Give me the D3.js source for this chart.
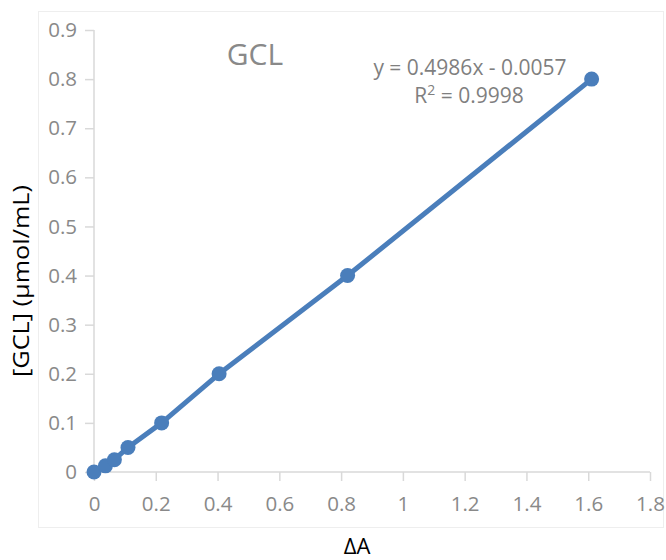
<!DOCTYPE html>
<html>
<head>
<meta charset="utf-8">
<script src="https://cdn.jsdelivr.net/npm/d3@7"></script>
<style>
  body { margin: 0; background: #fff; }
  text { font-family: "Open Sans", sans-serif; }
</style>
</head>
<body>
<script>
// Data
var deltaA = [0, 0.037, 0.066, 0.110, 0.219, 0.405, 0.821, 1.611];
var gcl = [0, 0.0125, 0.025, 0.05, 0.1, 0.2, 0.4, 0.8];
var xTicks = [0, 0.2, 0.4, 0.6, 0.8, 1, 1.2, 1.4, 1.6, 1.8];
var yTicks = [0, 0.1, 0.2, 0.3, 0.4, 0.5, 0.6, 0.7, 0.8, 0.9];
var title = 'GCL',
    equation = 'y = 0.4986x - 0.0057',
    rSquared = '0.9998',
    xLabel = 'ΔA',
    yLabel = '[GCL] (μmol/mL)';

var width = 666,
    height = 560,
    blue = '#4a7ebb',
    axisGrey = '#d9d9d9',
    textGrey = '#898989';

var svg = d3.select('body').append('svg')
    .attr('width', width)
    .attr('height', height);

// chart frame
svg.append('rect')
    .attr('x', 38.5)
    .attr('y', 11.5)
    .attr('width', 625)
    .attr('height', 516)
    .style('fill', 'none')
    .style('stroke', '#eeeeee');

var x = d3.scaleLinear().domain([0, 1.8]).range([94, 650]);
var y = d3.scaleLinear().domain([0, 0.9]).range([472, 30]);

var fmt = function (d) { return String(+d.toFixed(1)); };

// axes
var xAxis = svg.append('g')
    .attr('transform', 'translate(0,472)')
    .call(d3.axisBottom(x).tickValues(xTicks).tickSize(9).tickPadding(15).tickFormat(fmt));

var yAxis = svg.append('g')
    .attr('transform', 'translate(94,0)')
    .call(d3.axisLeft(y).tickValues(yTicks).tickSize(9).tickPadding(8).tickFormat(fmt));

[xAxis, yAxis].forEach(function (a) {
    a.select('.domain').style('stroke', axisGrey).style('stroke-width', 1.5);
    a.selectAll('.tick line').style('stroke', axisGrey).style('stroke-width', 1.5);
    a.selectAll('.tick text')
        .style('fill', textGrey)
        .style('font-size', '20.5px')
        .style('font-family', '"Open Sans", sans-serif');
});
// no outer ticks on the domain lines
xAxis.select('.domain').attr('d', 'M' + x.range()[0] + ',0H' + x.range()[1]);
yAxis.select('.domain').attr('d', 'M0,' + y.range()[0] + 'V' + y.range()[1]);

// series line
var line = d3.line()
    .x(function (d, i) { return x(deltaA[i]); })
    .y(function (d) { return y(d); });

svg.append('path')
    .datum(gcl)
    .attr('d', line)
    .style('fill', 'none')
    .style('stroke', blue)
    .style('stroke-width', 5)
    .style('stroke-linejoin', 'round');

svg.selectAll('circle.pt')
    .data(gcl)
    .enter().append('circle')
    .attr('class', 'pt')
    .attr('cx', function (d, i) { return x(deltaA[i]); })
    .attr('cy', function (d) { return y(d); })
    .attr('r', 7.5)
    .style('fill', blue);

// title
svg.append('text')
    .attr('x', 255)
    .attr('y', 65)
    .attr('text-anchor', 'middle')
    .style('font-size', '30px')
    .style('fill', textGrey)
    .text(title);

// trendline label
svg.append('text')
    .attr('x', 470)
    .attr('y', 75)
    .attr('text-anchor', 'middle')
    .style('font-size', '21px')
    .style('fill', '#7f7f7f')
    .text(equation);

var r2 = svg.append('text')
    .attr('x', 469)
    .attr('y', 103)
    .attr('text-anchor', 'middle')
    .style('font-size', '21px')
    .style('fill', '#7f7f7f');
r2.append('tspan').text('R');
r2.append('tspan').attr('dy', -8).style('font-size', '14px').text('2');
r2.append('tspan').attr('dy', 8).text(' = ' + rSquared);

// axis titles
svg.append('text')
    .attr('x', 357)
    .attr('y', 554)
    .attr('text-anchor', 'middle')
    .style('font-size', '22px')
    .style('fill', '#000')
    .text(xLabel);

svg.append('text')
    .attr('transform', 'translate(29,281) rotate(-90)')
    .attr('text-anchor', 'middle')
    .attr('textLength', 192)
    .attr('lengthAdjust', 'spacingAndGlyphs')
    .style('font-size', '21px')
    .style('fill', '#000')
    .text(yLabel);
</script>
</body>
</html>
